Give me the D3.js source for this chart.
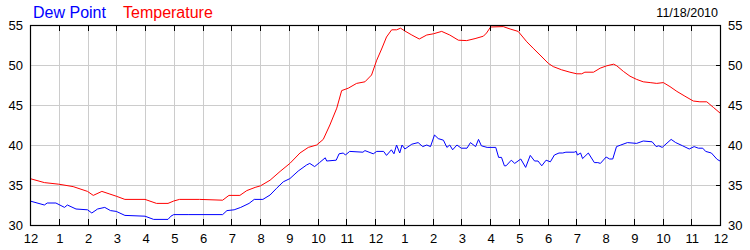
<!DOCTYPE html>
<html>
<head>
<meta charset="utf-8">
<script src="https://cdn.jsdelivr.net/npm/d3@7"></script>
<style>
  body { margin: 0; background: #fff; }
  svg { display: block; font-family: "Liberation Sans", Arial, sans-serif; }
</style>
</head>
<body>
<div class="chart"></div>
<script>
// hours after midnight and readings (deg F)
const tempHours = [0, 0.5, 1, 1.5, 2, 2.2, 2.5, 2.75, 3, 3.3, 4.0, 4.4, 4.8, 5.0, 5.2, 5.9, 6.7, 6.92, 7.3, 7.54, 7.83, 8.02, 8.35, 8.7, 9.04, 9.39, 9.68, 9.97, 10.2, 10.43, 10.67, 10.84, 11.07, 11.36, 11.65, 11.88, 12.06, 12.23, 12.4, 12.58, 12.75, 12.89, 13.04, 13.28, 13.54, 13.8, 14.03, 14.32, 14.6, 14.9, 15.19, 15.48, 15.77, 15.88, 16.02, 16.46, 16.7, 16.98, 17.28, 17.5, 17.74, 18.03, 18.2, 18.49, 18.78, 19.02, 19.19, 19.3, 19.6, 19.83, 20.06, 20.3, 20.41, 20.64, 20.87, 21.1, 21.33, 21.57, 21.8, 22.03, 22.26, 22.5, 22.78, 23.07, 23.3, 23.54, 23.77, 24];
const tempValues = [35.8, 35.3, 35.1, 34.8, 34.2, 33.7, 34.2, 33.9, 33.6, 33.2, 33.2, 32.7, 32.7, 33.0, 33.2, 33.2, 33.1, 33.7, 33.7, 34.3, 34.7, 34.9, 35.6, 36.7, 37.7, 39.0, 39.7, 40.0, 40.7, 42.5, 44.6, 46.8, 47.1, 47.7, 47.9, 48.75, 50.6, 52.0, 53.5, 54.4, 54.4, 54.6, 54.25, 53.75, 53.25, 53.75, 53.9, 54.2, 53.75, 53.1, 53.05, 53.3, 53.6, 54.0, 54.75, 54.8, 54.5, 54.2, 52.9, 52.1, 51.25, 50.2, 49.8, 49.4, 49.1, 48.9, 48.9, 49.1, 49.1, 49.6, 49.9, 50.1, 49.9, 49.2, 48.6, 48.2, 47.9, 47.8, 47.7, 47.8, 47.3, 46.7, 46.1, 45.5, 45.4, 45.4, 44.7, 44.0];

const dewHours = [0, 0.5, 0.6, 0.9, 1.2, 1.3, 1.6, 2.0, 2.15, 2.35, 2.6, 2.8, 3.0, 3.3, 4.0, 4.3, 4.8, 4.9, 5.0, 5.5, 6.7, 6.85, 7.1, 7.33, 7.62, 7.8, 8.1, 8.35, 8.58, 8.81, 9.04, 9.33, 9.62, 9.73, 9.9, 10.07, 10.27, 10.32, 10.65, 10.75, 10.9, 10.97, 11.12, 11.58, 11.65, 11.94, 12.06, 12.3, 12.4, 12.57, 12.66, 12.75, 12.86, 12.94, 13.04, 13.28, 13.5, 13.66, 13.8, 13.93, 14.07, 14.2, 14.38, 14.5, 14.6, 14.7, 14.85, 15.0, 15.2, 15.32, 15.5, 15.6, 15.7, 15.9, 16.2, 16.3, 16.4, 16.5, 16.56, 16.74, 16.86, 17.07, 17.24, 17.4, 17.55, 17.67, 17.8, 17.95, 18.1, 18.24, 18.4, 18.53, 18.64, 18.93, 19.0, 19.04, 19.15, 19.22, 19.42, 19.63, 19.75, 19.84, 20.04, 20.16, 20.27, 20.4, 20.55, 20.78, 21.1, 21.33, 21.64, 21.78, 21.87, 21.99, 22.3, 22.46, 22.7, 22.93, 23.1, 23.25, 23.4, 23.5, 23.7, 23.9, 24];
const dewValues = [33.0, 32.5, 32.75, 32.75, 32.2, 32.5, 32.0, 31.9, 31.5, 32.0, 32.2, 31.8, 31.7, 31.2, 31.1, 30.7, 30.7, 31.1, 31.3, 31.3, 31.3, 31.8, 31.9, 32.2, 32.7, 33.2, 33.2, 33.75, 34.6, 35.4, 35.8, 36.75, 37.5, 37.7, 37.3, 37.8, 38.4, 38.0, 38.1, 38.9, 39.0, 38.75, 39.2, 39.1, 39.3, 38.9, 39.2, 39.2, 38.7, 39.4, 38.9, 40.0, 39.0, 40.0, 39.5, 40.1, 40.3, 39.8, 40.0, 39.8, 41.25, 40.8, 40.6, 39.7, 40.0, 39.4, 40.0, 39.6, 39.6, 40.3, 39.8, 40.7, 39.9, 39.7, 39.7, 38.45, 38.45, 37.4, 37.4, 38.1, 37.7, 38.25, 37.2, 38.7, 38.0, 38.0, 37.4, 38.1, 37.9, 38.75, 39.0, 39.0, 39.1, 39.1, 39.2, 38.75, 39.0, 38.3, 39.0, 37.8, 37.8, 37.7, 38.5, 38.25, 38.25, 39.8, 40.0, 40.3, 40.2, 40.5, 40.4, 39.8, 39.9, 39.7, 40.7, 40.3, 39.9, 39.5, 39.8, 39.6, 39.6, 39.2, 39.0, 38.2, 38.0];

const hourTicks = d3.range(0, 25);
const hourLabels = ["12", "1", "2", "3", "4", "5", "6", "7", "8", "9", "10", "11",
                    "12", "1", "2", "3", "4", "5", "6", "7", "8", "9", "10", "11", "12"];
const tempTicks = [30, 35, 40, 45, 50, 55];
const seriesNames = ["Dew Point", "Temperature"];
const seriesColors = ["#0000ff", "#ff0000"];
const dateLabel = "11/18/2010";

const width = 750, height = 250;
const plotL = 30, plotR = 720, plotT = 25, plotB = 225;

const svg = d3.select(".chart")
    .append("svg")
    .attr("width", width)
    .attr("height", height);

const x = d3.scaleLinear().domain([0, 24]).range([plotL, plotR]);
const y = d3.scaleLinear().domain([30, 55]).range([plotB, plotT]);

// grid
svg.append("g")
    .selectAll("line")
    .data(hourTicks.slice(1, -1))
    .enter()
    .append("line")
    .attr("x1", d => Math.round(x(d)) + 0.5)
    .attr("x2", d => Math.round(x(d)) + 0.5)
    .attr("y1", plotT)
    .attr("y2", plotB)
    .attr("stroke", "#cccccc");

svg.append("g")
    .selectAll("line")
    .data(tempTicks.slice(1, -1))
    .enter()
    .append("line")
    .attr("x1", plotL)
    .attr("x2", plotR)
    .attr("y1", d => Math.round(y(d)) + 0.5)
    .attr("y2", d => Math.round(y(d)) + 0.5)
    .attr("stroke", "#cccccc");

// series
const line = d3.line()
    .x(d => x(d[0]))
    .y(d => y(d[1]));

svg.append("path")
    .datum(d3.zip(dewHours, dewValues))
    .attr("d", line)
    .attr("fill", "none")
    .attr("stroke", seriesColors[0])
    .attr("stroke-width", 1);

svg.append("path")
    .datum(d3.zip(tempHours, tempValues))
    .attr("d", line)
    .attr("fill", "none")
    .attr("stroke", seriesColors[1])
    .attr("stroke-width", 1);

// frame
svg.append("rect")
    .attr("x", plotL + 0.5)
    .attr("y", plotT + 0.5)
    .attr("width", plotR - plotL)
    .attr("height", plotB - plotT)
    .attr("fill", "none")
    .attr("stroke", "#000")
    .attr("stroke-width", 1.2);

// tick marks top and bottom
const tickG = svg.append("g").attr("stroke", "#000");
tickG.selectAll(".tt")
    .data(hourTicks.slice(1, -1))
    .enter()
    .append("line")
    .attr("x1", d => Math.round(x(d)) + 0.5)
    .attr("x2", d => Math.round(x(d)) + 0.5)
    .attr("y1", plotT)
    .attr("y2", plotT + 6);
tickG.selectAll(".tb")
    .data(hourTicks.slice(1, -1))
    .enter()
    .append("line")
    .attr("x1", d => Math.round(x(d)) + 0.5)
    .attr("x2", d => Math.round(x(d)) + 0.5)
    .attr("y1", plotB - 6)
    .attr("y2", plotB);
tickG.selectAll(".tr")
    .data(tempTicks.slice(1, -1))
    .enter()
    .append("line")
    .attr("x1", plotR - 4)
    .attr("x2", plotR)
    .attr("y1", d => Math.round(y(d)) + 0.5)
    .attr("y2", d => Math.round(y(d)) + 0.5);

// axis labels
svg.append("g")
    .selectAll("text")
    .data(hourTicks)
    .enter()
    .append("text")
    .attr("x", d => x(d) + 1)
    .attr("y", 243)
    .attr("text-anchor", "middle")
    .attr("font-size", 13)
    .attr("fill", "#000")
    .text((d, i) => hourLabels[i]);

svg.append("g")
    .selectAll("text")
    .data(tempTicks)
    .enter()
    .append("text")
    .attr("x", plotL - 7)
    .attr("y", d => y(d) + 5)
    .attr("text-anchor", "end")
    .attr("font-size", 13)
    .text(d => d);

svg.append("g")
    .selectAll("text")
    .data(tempTicks)
    .enter()
    .append("text")
    .attr("x", plotR + 8)
    .attr("y", d => y(d) + 5)
    .attr("text-anchor", "start")
    .attr("font-size", 13)
    .text(d => d);

// legend
svg.append("text")
    .attr("x", 33).attr("y", 18)
    .attr("font-size", 16)
    .attr("fill", seriesColors[0])
    .text(seriesNames[0]);
svg.append("text")
    .attr("x", 123).attr("y", 18)
    .attr("font-size", 16)
    .attr("fill", seriesColors[1])
    .text(seriesNames[1]);

svg.append("text")
    .attr("x", 718).attr("y", 17)
    .attr("text-anchor", "end")
    .attr("font-size", 12.5)
    .text(dateLabel);
</script>
</body>
</html>
